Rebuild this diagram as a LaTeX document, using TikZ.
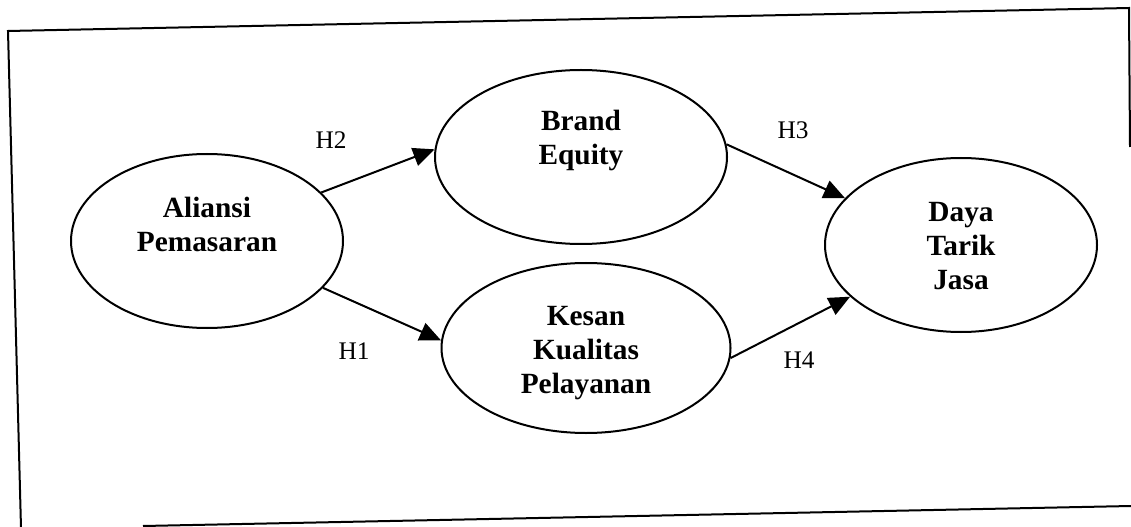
\documentclass[tikz,border=0pt]{standalone}
\usepackage{fontspec}
\setmainfont{Liberation Serif}
\usetikzlibrary{shapes.geometric,arrows.meta}

\tikzset{
  construct/.style={draw, ellipse, line width=1.5pt, inner sep=0pt},
  ctext/.style={align=center, inner sep=0pt,
    font=\fontsize{22}{25.5}\selectfont\bfseries},
  hyp/.style={inner sep=0pt, font=\fontsize{19}{22}\selectfont},
  path/.style={line width=1.5pt, -{Triangle[length=16pt, width=14pt]}},
  frame/.style={line width=1.5pt, line join=miter}
}

\begin{document}
\begin{tikzpicture}[x=0.75pt, y=-0.75pt]
\useasboundingbox (0,0) rectangle (1131,527);

% outer frame
\draw[frame] (21,528) -- (8,31) -- (1129,8) -- (1130,147);
\draw[frame] (143,526) -- (1131,506);

% constructs
\node[construct, minimum width=204pt, minimum height=130.5pt] (ali) at (207,241) {};
\node[construct, minimum width=219pt, minimum height=130.5pt] (brand) at (581,157) {};
\node[construct, minimum width=216.75pt, minimum height=127.5pt] (kesan) at (586,348) {};
\node[construct, minimum width=204pt, minimum height=130.5pt] (daya) at (961,245) {};

\node[ctext] (alitxt) at (207,224) {Aliansi\\Pemasaran};
\node[ctext] (brandtxt) at (581,140) {Brand\\Equity};
\node[ctext] (kesantxt) at (586,353) {Kesan\\Kualitas\\Pelayanan};
\node[ctext] (dayatxt) at (961,246) {Daya\\Tarik\\Jasa};

% hypothesised paths
\draw[path] (ali.23) -- (brand.177);
\draw[path] (ali.-22) -- (kesan.177);
\draw[path] (brand.5) -- (daya.158);
\draw[path] (kesan.-4) -- (daya.205);

% hypothesis labels
\node[hyp] (h2) at (331,140) {H2};
\node[hyp] (h1) at (354,351) {H1};
\node[hyp] (h3) at (793,130) {H3};
\node[hyp] (h4) at (799,360) {H4};
\end{tikzpicture}
\end{document}
